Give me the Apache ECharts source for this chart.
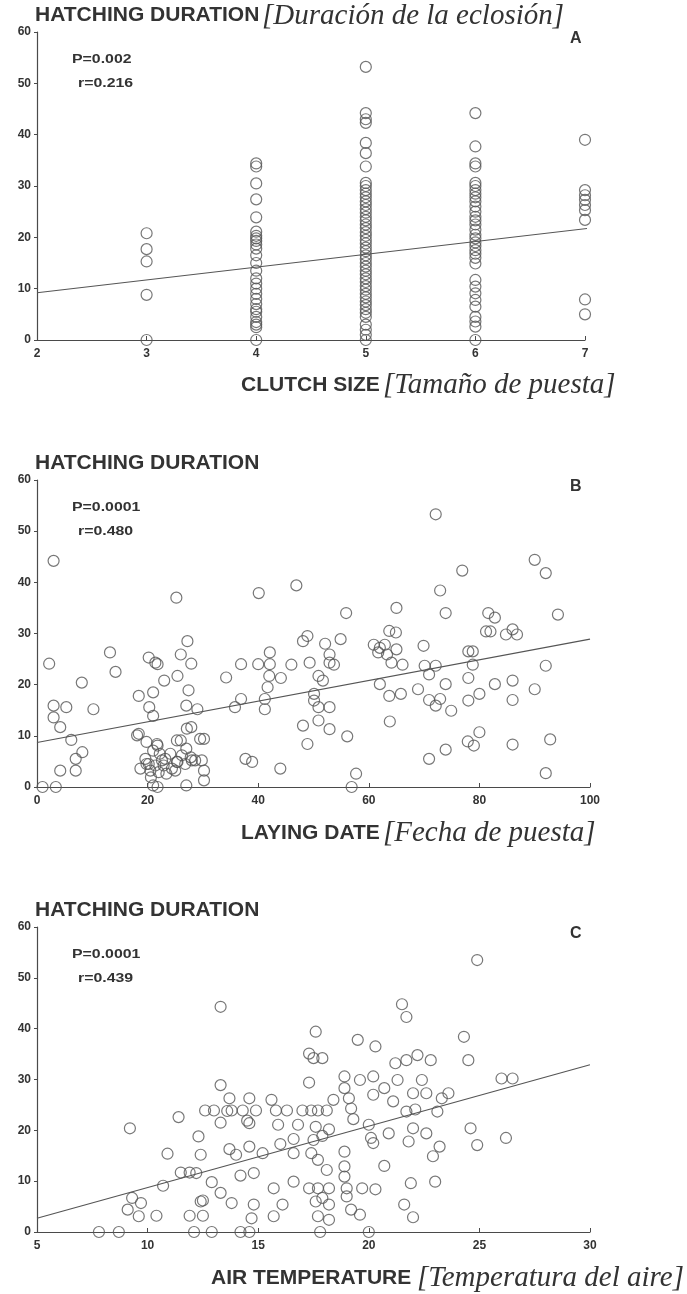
<!DOCTYPE html>
<html>
<head>
<meta charset="utf-8">
<script src="https://cdn.jsdelivr.net/npm/echarts@6/dist/echarts.min.js"></script>
<style>
  html, body { margin: 0; padding: 0; background: #fff; }
  #chart { width: 687px; height: 1294px; }
</style>
</head>
<body>
<div id="chart"></div>
<script>
// A: clutch size vs hatching duration
var clutchData = [
  [3, 20.8], [3, 17.7], [3, 15.3], [3, 8.8], [3, 0],
  [4, 34.4], [4, 33.8], [4, 30.5], [4, 27.4], [4, 23.9], [4, 21.1], [4, 20.3], [4, 19.8], [4, 19.3],
  [4, 18.6], [4, 17.8], [4, 16.5], [4, 15], [4, 13.5], [4, 12], [4, 11], [4, 10], [4, 9], [4, 8],
  [4, 7], [4, 6], [4, 5.5], [4, 4.5], [4, 3.5], [4, 3], [4, 2.5], [4, 0],
  [5, 53.2], [5, 44.2], [5, 43], [5, 42.3], [5, 38.4], [5, 36.4], [5, 33.8], [5, 30.6], [5, 30],
  [5, 29.2], [5, 28.5], [5, 27.8], [5, 27], [5, 26.3], [5, 25.5], [5, 24.8], [5, 24], [5, 23.3],
  [5, 22.5], [5, 21.8], [5, 21], [5, 20.3], [5, 19.5], [5, 18.8], [5, 18], [5, 17.3], [5, 16.5],
  [5, 15.8], [5, 15], [5, 14.3], [5, 13.5], [5, 12.8], [5, 12], [5, 11.3], [5, 10.5], [5, 9.8],
  [5, 9], [5, 8.3], [5, 7.5], [5, 6.8], [5, 6], [5, 5.3], [5, 4.5], [5, 3], [5, 2], [5, 1], [5, 0],
  [6, 44.2], [6, 37.7], [6, 34.4], [6, 33.8], [6, 30.6], [6, 30], [6, 29.2], [6, 28.5], [6, 27.8],
  [6, 27], [6, 26], [6, 25], [6, 24], [6, 23.3], [6, 22.5], [6, 21.5], [6, 20.5], [6, 19.8], [6, 19],
  [6, 18.3], [6, 17.5], [6, 16.8], [6, 16], [6, 14.9], [6, 11.7], [6, 10.4], [6, 9.1], [6, 7.8],
  [6, 6.5], [6, 4.5], [6, 3.6], [6, 2.6], [6, 0],
  [7, 39], [7, 29.2], [7, 28.2], [7, 27.3], [7, 26.3], [7, 25.3], [7, 23.4], [7, 7.9], [7, 5]
];
var clutchFit = [[2, 9.2], [7.05, 21.8]];

// B: laying date vs hatching duration
var layingData = [
  [3, 44.2], [2.2, 24.1], [3, 15.9], [3, 13.6], [4.2, 11.7], [5.3, 15.6], [6.2, 9.2], [4.2, 3.2],
  [7, 3.2], [7, 5.5], [8.2, 6.8], [8.1, 20.4], [10.2, 15.2], [13.2, 26.3], [14.2, 22.5], [1, 0],
  [3.4, 0], [18.4, 17.8], [18.4, 10.4], [20.2, 25.3], [21.4, 24.3], [21, 18.5], [20.3, 15.6],
  [21, 13.9], [23, 20.8], [21.8, 24], [25.4, 21.7], [25.2, 37], [26, 25.9], [27.2, 28.5],
  [27.9, 24.1], [27.4, 18.9], [27, 15.9], [29, 15.2], [27.9, 11.7], [26, 9.1], [30.2, 9.4],
  [19.8, 8.8], [21, 7.1], [21.8, 8.1], [22.2, 6.5], [19.8, 4.5], [21.4, 4.2], [22.6, 5.2],
  [23.4, 2.6], [20.6, 1.9], [25, 3.2], [25.4, 4.9], [26.2, 6.2], [27, 7.5], [27.8, 5.8],
  [28.6, 5.2], [29.8, 5.2], [30.2, 3.2], [30.2, 1.3], [21, 0.3], [27, 0.3], [21.8, 0],
  [18.7, 3.6], [19.6, 5.5], [20.2, 4.5], [20.5, 3.2], [22, 2.9], [22.9, 4.2], [23.2, 5.5],
  [24.1, 6.5], [24.4, 3.6], [25.3, 4.9], [26.8, 4.5], [28, 5.2], [18.1, 10.1], [21.7, 8.4],
  [25.3, 9.1], [27.1, 11.4], [29.5, 9.4],
  [34.2, 21.4], [36.9, 24], [36.9, 17.2], [35.8, 15.6], [37.7, 5.5], [38.9, 4.9], [40.1, 37.9],
  [40, 24], [41.2, 17.2], [41.2, 15.2], [41.7, 19.5], [42.1, 26.3], [42.1, 24], [42, 21.7],
  [44.1, 21.3], [44, 3.6], [46, 23.9], [46.9, 39.4], [48.1, 28.5], [48.9, 29.5], [48.1, 12],
  [48.9, 8.4], [49.3, 24.3], [50.1, 18.2], [50.1, 16.9], [50.9, 15.6], [50.9, 13], [50.9, 21.7],
  [52.1, 28], [51.7, 20.8], [52.9, 25.9], [52.9, 24.3], [53.7, 23.9], [52.9, 15.6], [52.9, 11.3],
  [54.9, 28.9], [55.9, 34], [56.1, 9.9], [57.7, 2.6], [56.9, 0], [60.9, 27.8], [61.7, 26.3],
  [62, 27.2], [62.9, 27.8], [63.3, 25.9], [62, 20.1], [63.7, 30.5], [64.9, 30.2], [65, 35],
  [65, 26.9], [64.1, 24.3], [63.7, 17.8], [65.8, 18.2], [66.1, 23.9], [63.8, 12.8], [68.9, 19.1],
  [69.9, 27.6], [70.1, 23.7], [70.9, 22], [72.1, 53.3], [72.1, 23.7], [70.9, 17], [72.1, 15.9],
  [72.9, 17.2], [70.9, 5.5], [72.9, 38.4], [73.9, 34], [73.9, 20.1], [73.9, 7.3], [74.9, 14.9],
  [76.9, 42.3], [78, 26.5], [78.8, 26.5], [78, 21.3], [78, 16.9], [78.8, 23.9], [80, 18.2],
  [80, 10.7], [77.9, 8.9], [79, 8.1], [81.6, 34], [82.8, 33.1], [81.2, 30.4], [82, 30.4],
  [82.8, 20.1], [84.8, 29.8], [86, 30.8], [86.8, 29.8], [86, 20.8], [86, 17], [86, 8.3],
  [90, 44.4], [92, 41.8], [94.2, 33.7], [92, 23.7], [90, 19.1], [92.8, 9.3], [92, 2.7]
];
var layingFit = [[0, 8.7], [100, 28.9]];

// C: air temperature vs hatching duration
var tempData = [
  [9.2, 20.4], [9.1, 4.4], [9.3, 6.7], [9.7, 5.7], [9.6, 3.1], [10.4, 3.2], [10.7, 9.1],
  [10.9, 15.4], [11.4, 22.6], [11.5, 11.7], [11.9, 11.7], [12.2, 11.6], [11.9, 3.2], [12.4, 6],
  [12.3, 18.8], [12.5, 3.2], [12.4, 15.2], [12.6, 23.9], [13, 23.9], [13.3, 28.9], [13.3, 21.5],
  [12.9, 9.8], [13.3, 7.7], [13.7, 26.3], [13.8, 23.9], [13.7, 16.3], [14, 15.2], [13.8, 5.7],
  [14.2, 11.1], [14.6, 26.3], [14.6, 21.4], [14.6, 16.8], [14.3, 23.9], [14.9, 23.9], [14.8, 11.6],
  [14.7, 2.7], [14.8, 5.4], [15.2, 15.5], [15.6, 26], [15.8, 23.9], [15.9, 21.1], [15.7, 8.6],
  [15.7, 3.1], [16, 17.3], [16.1, 5.4], [16.3, 23.9], [16.6, 18.3], [16.6, 15.5], [16.6, 9.9],
  [16.8, 21.1], [17, 23.9], [17.3, 35.1], [17.3, 29.4], [17.4, 23.9], [17.5, 18.1], [17.4, 15.5],
  [17.6, 39.4], [17.5, 34.2], [17.9, 34.2], [17.7, 23.9], [18.1, 23.9], [17.6, 20.7], [17.9, 18.9],
  [18.2, 20.2], [17.7, 14.2], [18.1, 12.2], [17.3, 8.6], [17.7, 8.6], [18.2, 8.6], [17.6, 6],
  [17.9, 6.7], [18.2, 5.4], [17.7, 3.1], [18.2, 2.4], [17.8, 0], [18.4, 26], [18.9, 30.6],
  [18.9, 28.3], [19.1, 26.3], [19.2, 24.3], [18.9, 15.8], [18.9, 12.9], [18.9, 10.9], [19, 8.6],
  [19, 7], [19.2, 4.4], [19.6, 3.4], [19.3, 22.2], [19.5, 37.8], [19.6, 29.9], [19.7, 8.6],
  [20, 21.1], [20.1, 18.5], [20.2, 30.6], [20.2, 27], [20.2, 17.5], [20.3, 8.4], [20.3, 36.5],
  [20, 0], [20.7, 28.3], [20.7, 13], [20.9, 19.4], [21.1, 25.7], [21.2, 33.2], [21.3, 29.9],
  [21.5, 44.8], [21.7, 42.3], [21.7, 33.8], [21.7, 23.7], [21.8, 17.8], [21.9, 9.6], [21.6, 5.4],
  [22, 2.9], [22, 20.4], [22, 27.3], [22.2, 34.8], [22.1, 24.1], [22.4, 29.9], [22.6, 19.4],
  [22.6, 27.3], [22.8, 33.8], [22.9, 14.9], [23, 9.9], [23.1, 23.7], [23.2, 16.8], [23.3, 26.3],
  [23.6, 27.3], [24.3, 38.4], [24.5, 33.8], [24.6, 20.4], [24.9, 53.5], [24.9, 17.1], [26, 30.2],
  [26.5, 30.2], [26.2, 18.5], [13.3, 44.3], [7.8, 0], [8.7, 0], [12.1, 0], [12.9, 0], [14.6, 0],
  [14.2, 0], [12.5, 6.2], [13.6, 23.8], [14.5, 21.9]
];
var tempFit = [[5, 2.7], [30, 32.9]];

var panelTags = ["A", "B", "C"];
var statP = ["P=0.002", "P=0.0001", "P=0.0001"];
var statR = ["r=0.216", "r=0.480", "r=0.439"];

var ink = "#4a4a4a";
var sansBold = "bold 21px Arial, 'Liberation Sans', sans-serif";
var serifItalic = "italic 29px 'Liberation Serif', 'Times New Roman', serif";

function yAxisOpt(idx) {
  return {
    type: "value", gridIndex: idx, min: 0, max: 60, interval: 10,
    axisLine: { show: true, lineStyle: { color: ink, width: 1.2 } },
    axisTick: { show: true, length: 3, lineStyle: { color: ink } },
    splitLine: { show: false },
    axisLabel: { color: "#333", fontSize: 12, fontWeight: "bold", margin: 6, fontFamily: "Arial" }
  };
}
function xAxisOpt(idx, min, max, interval) {
  return {
    type: "value", gridIndex: idx, min: min, max: max, interval: interval,
    axisLine: { show: true, onZero: false, lineStyle: { color: ink, width: 1.2 } },
    axisTick: { show: true, inside: true, length: 4, lineStyle: { color: ink } },
    splitLine: { show: false },
    axisLabel: { color: "#333", fontSize: 12, fontWeight: "bold", margin: 8, fontFamily: "Arial" }
  };
}
function scatterOpt(idx, data) {
  return {
    type: "scatter", xAxisIndex: idx, yAxisIndex: idx, data: data,
    symbol: "circle", symbolSize: 11,
    itemStyle: { color: "rgba(0,0,0,0)", borderColor: "#555", borderWidth: 1.2 }
  };
}
function fitOpt(idx, data) {
  return {
    type: "line", xAxisIndex: idx, yAxisIndex: idx, data: data,
    showSymbol: false, silent: true,
    lineStyle: { color: "#555", width: 1.2 }
  };
}
function txt(x, y, text, font, sx) {
  return {
    type: "text", x: x, y: y, scaleX: sx || 1,
    style: { text: text, font: font, fill: "#333", verticalAlign: "middle", align: "left" }
  };
}

var chart = echarts.init(document.getElementById("chart"));
var panelTop = [32, 480, 927];
var headerY = [15, 463, 910];
var footY = [385, 833, 1278];
var graphics = [];
for (var i = 0; i < 3; i++) {
  graphics.push(txt(35, headerY[i], "HATCHING DURATION", sansBold));
  graphics.push(txt(570, panelTop[i] + 7, panelTags[i], "bold 16px Arial"));
  graphics.push(txt(72, panelTop[i] + 27, statP[i], "bold 13px Arial", 1.22));
  graphics.push(txt(78, panelTop[i] + 51, statR[i], "bold 13px Arial", 1.22));
}
graphics.push(txt(262, 16, "[Duración de la eclosión]", serifItalic));
graphics.push(txt(241, footY[0], "CLUTCH SIZE", sansBold));
graphics.push(txt(383, footY[0], "[Tamaño de puesta]", serifItalic));
graphics.push(txt(241, footY[1], "LAYING DATE", sansBold));
graphics.push(txt(383, footY[1], "[Fecha de puesta]", serifItalic));
graphics.push(txt(211, footY[2], "AIR TEMPERATURE", sansBold));
graphics.push(txt(417, footY[2], "[Temperatura del aire]", serifItalic));

var option = {
  backgroundColor: "#fff",
  animation: false,
  grid: [
    { left: 37, width: 548, top: panelTop[0], height: 308 },
    { left: 37, width: 553, top: panelTop[1], height: 307 },
    { left: 37, width: 553, top: panelTop[2], height: 305 }
  ],
  xAxis: [xAxisOpt(0, 2, 7, 1), xAxisOpt(1, 0, 100, 20), xAxisOpt(2, 5, 30, 5)],
  yAxis: [yAxisOpt(0), yAxisOpt(1), yAxisOpt(2)],
  series: [
    scatterOpt(0, clutchData), fitOpt(0, clutchFit),
    scatterOpt(1, layingData), fitOpt(1, layingFit),
    scatterOpt(2, tempData), fitOpt(2, tempFit)
  ],
  graphic: graphics
};
chart.setOption(option);
window.addEventListener("resize", function() {
  chart.resize();
});
</script>
</body>
</html>
